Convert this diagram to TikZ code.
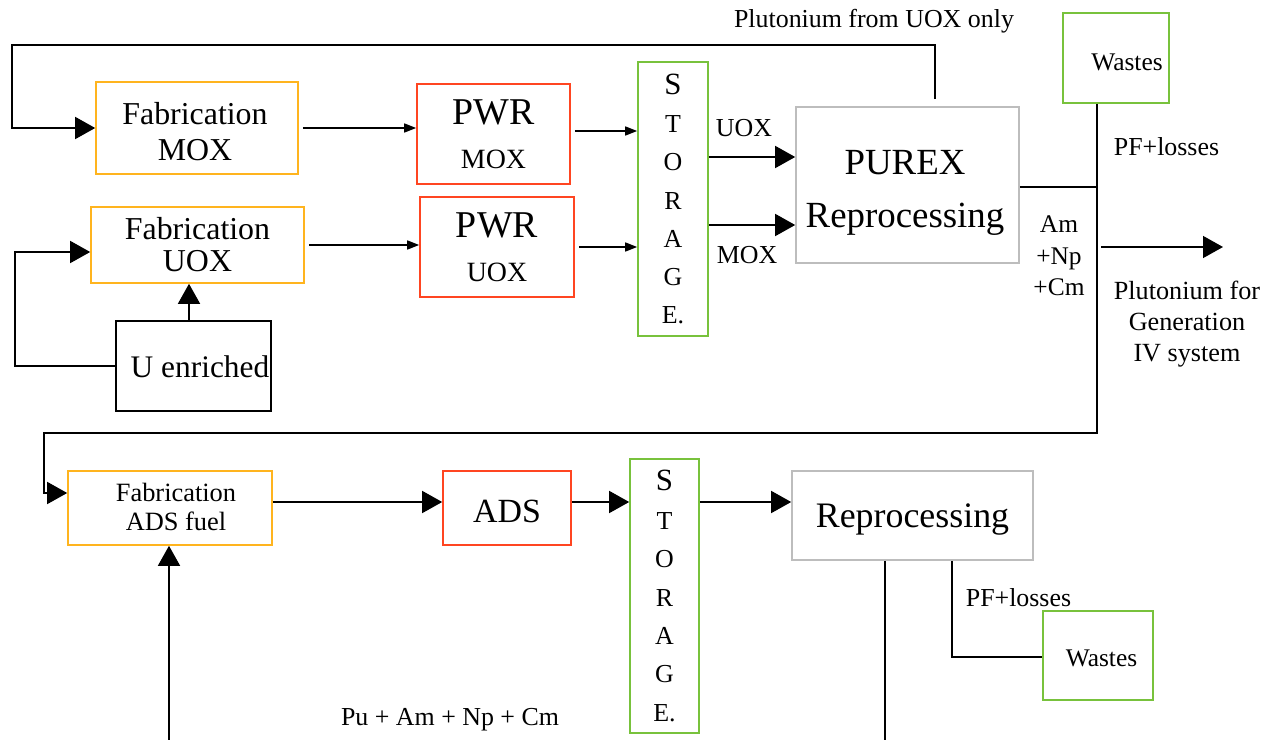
\documentclass[tikz,border=0pt]{standalone}
\usepackage{fontspec}
\setmainfont{Liberation Serif}
\usetikzlibrary{arrows.meta,calc}
\definecolor{fabC}{HTML}{FFB41E}
\definecolor{pwrC}{HTML}{FF4521}
\definecolor{stoC}{HTML}{78C23C}
\definecolor{repC}{HTML}{BDBDBD}
\begin{document}
\begin{tikzpicture}[x=1bp,y=-1bp,
  box/.style={draw, line width=1.6bp, inner sep=0pt, align=center},
  fab/.style={box, draw=fabC},
  pwr/.style={box, draw=pwrC},
  sto/.style={box, draw=stoC},
  rep/.style={box, draw=repC},
  blk/.style={box, draw=black},
  txt/.style={inner sep=0pt, align=center},
  lbl/.style={inner sep=0pt, font=\fontsize{26}{31}\selectfont},
  conn/.style={line width=1.5bp},
  big/.style={conn, -{Triangle[length=20bp,width=22bp]}},
  small/.style={conn, -{Triangle[length=12bp,width=9bp]}, shorten <=4bp}
]
\useasboundingbox (0,0) rectangle (1272,740);

% ---------- top row boxes ----------
\node[fab, minimum width=202bp, minimum height=92bp] (fabmox) at (197,128) {};
\node[txt, font=\fontsize{32}{36}\selectfont] (fabmoxt) at (195,132) {Fabrication\\MOX};
\node[fab, minimum width=213bp, minimum height=76bp, font=\fontsize{32}{32}\selectfont] (fabuox) at (197.5,245) {Fabrication\\UOX};
\node[blk, minimum width=155bp, minimum height=90bp, font=\fontsize{31.5}{34}\selectfont, text height=24bp] (uenr) at (193.5,366) {\hspace*{13bp}U enriched};
\node[pwr, minimum width=153bp, minimum height=100bp, font=\fontsize{28}{44}\selectfont] (pwrmox) at (493.5,134) {{\fontsize{38}{44}\selectfont PWR}\\MOX};
\node[pwr, minimum width=154bp, minimum height=100bp, font=\fontsize{28}{44}\selectfont] (pwruox) at (497,247) {{\fontsize{38}{44}\selectfont PWR}\\UOX};
\node[sto, minimum width=70bp, minimum height=274bp, font=\fontsize{26}{38.3}\selectfont] (sto1) at (673,199) {{\fontsize{31}{38.3}\selectfont S}\\T\\O\\R\\A\\G\\E.};
\node[rep, minimum width=223bp, minimum height=156bp] (purex) at (907.5,185) {};
\node[txt, font=\fontsize{37}{53}\selectfont] (purext) at (905,193) {PUREX\\Reprocessing};
\node[sto, minimum width=106bp, minimum height=90bp, font=\fontsize{25.5}{30}\selectfont, text height=26bp] (wastes1) at (1116,58) {\hspace*{22bp}Wastes};

% ---------- bottom row boxes ----------
\node[fab, minimum width=204bp, minimum height=74bp] (fabads) at (170,508) {};
\node[txt, font=\fontsize{26.5}{29}\selectfont] (fabadst) at (176,507) {Fabrication\\ADS fuel};
\node[pwr, minimum width=128bp, minimum height=74bp, font=\fontsize{34}{36}\selectfont, text height=30bp] (ads) at (507,508) {ADS};
\node[sto, minimum width=69bp, minimum height=274bp, font=\fontsize{26}{38.5}\selectfont] (sto2) at (664.5,596) {{\fontsize{31}{38.5}\selectfont S}\\T\\O\\R\\A\\G\\E.};
\node[rep, minimum width=241bp, minimum height=89bp, font=\fontsize{36}{40}\selectfont, text height=31bp] (rep2) at (912.5,515.5) {Reprocessing};
\node[sto, minimum width=110bp, minimum height=89bp, font=\fontsize{25.5}{30}\selectfont, text height=23bp] (wastes2) at (1098,655.5) {\hspace*{7bp}Wastes};

% ---------- labels ----------
\node[lbl, anchor=base] (lplu) at (874,28) {Plutonium from UOX only};
\node[lbl, anchor=base] (luox) at (744,136) {UOX};
\node[lbl, anchor=base] (lmox) at (747,263) {MOX};
\node[lbl, anchor=base] (lpf1) at (1166.5,155) {PF+losses};
\node[lbl, align=center, font=\fontsize{25.5}{31.5}\selectfont] (lam) at (1059,256) {Am\\+Np\\+Cm};
\node[lbl, align=center, font=\fontsize{26.3}{31.5}\selectfont] (lgen) at (1187,324) {Plutonium for\\Generation\\IV system};
\node[lbl, anchor=base] (lpu) at (450,725) {Pu + Am + Np + Cm};
\node[lbl, anchor=base] (lpf2) at (1018.5,606) {PF+losses};

% ---------- coordinates ----------
\coordinate (c1) at (935,45);
\coordinate (c2) at (12,45);
\coordinate (c3) at (15,252);
\coordinate (j) at (1097,187);
\coordinate (k1) at (1097,433);
\coordinate (k2) at (44,433);
\coordinate (k3) at (44,493);
\coordinate (p1) at (1101,247);
\coordinate (p2) at (1223,247);
\coordinate (r) at (0,502);
\coordinate (b1) at (169,740);
\coordinate (b2) at (885,740);
\coordinate (w) at (952,657);

% ---------- connectors, top ----------
\draw[big] ([yshift=7bp]c1 |- purex.north) -- (c1) -- (c2) -- (c2 |- fabmox.west) -- (fabmox.west);
\draw[big] (uenr.west) -| (c3) -- (fabuox.west |- c3);
\draw[big] (uenr.north -| 189,0) -- (fabuox.south -| 189,0);
\draw[small] (fabmox.east) -- (fabmox.east -| pwrmox.west);
\draw[small] (fabuox.east) -- (fabuox.east -| pwruox.west);
\draw[small] ([yshift=3bp]pwrmox.east) -- ([yshift=3bp]pwrmox.east -| sto1.west);
\draw[small] (pwruox.east) -- (pwruox.east -| sto1.west);
\draw[big] ([yshift=42bp]sto1.east) coordinate (uo) -- (uo -| purex.west);
\draw[big] ([yshift=-26bp]sto1.east) coordinate (mo) -- (mo -| purex.west);
\draw[conn] (purex.east |- j) -- (j);
\draw[big] (wastes1.south -| j) -- (k1) -- (k2) -- (k3) -- (fabads.west |- k3);
\draw[big] (p1) -- (p2);

% ---------- connectors, bottom ----------
\draw[big] (fabads.east |- r) -- (ads.west |- r);
\draw[big] (ads.east |- r) -- (sto2.west |- r);
\draw[big] (sto2.east |- r) -- (rep2.west |- r);
\draw[big] (b1) -- (b1 |- fabads.south);
\draw[conn] (rep2.south -| b2) -- (b2);
\draw[conn] (rep2.south -| w) -- (w) -- (wastes2.west |- w);
\end{tikzpicture}
\end{document}
